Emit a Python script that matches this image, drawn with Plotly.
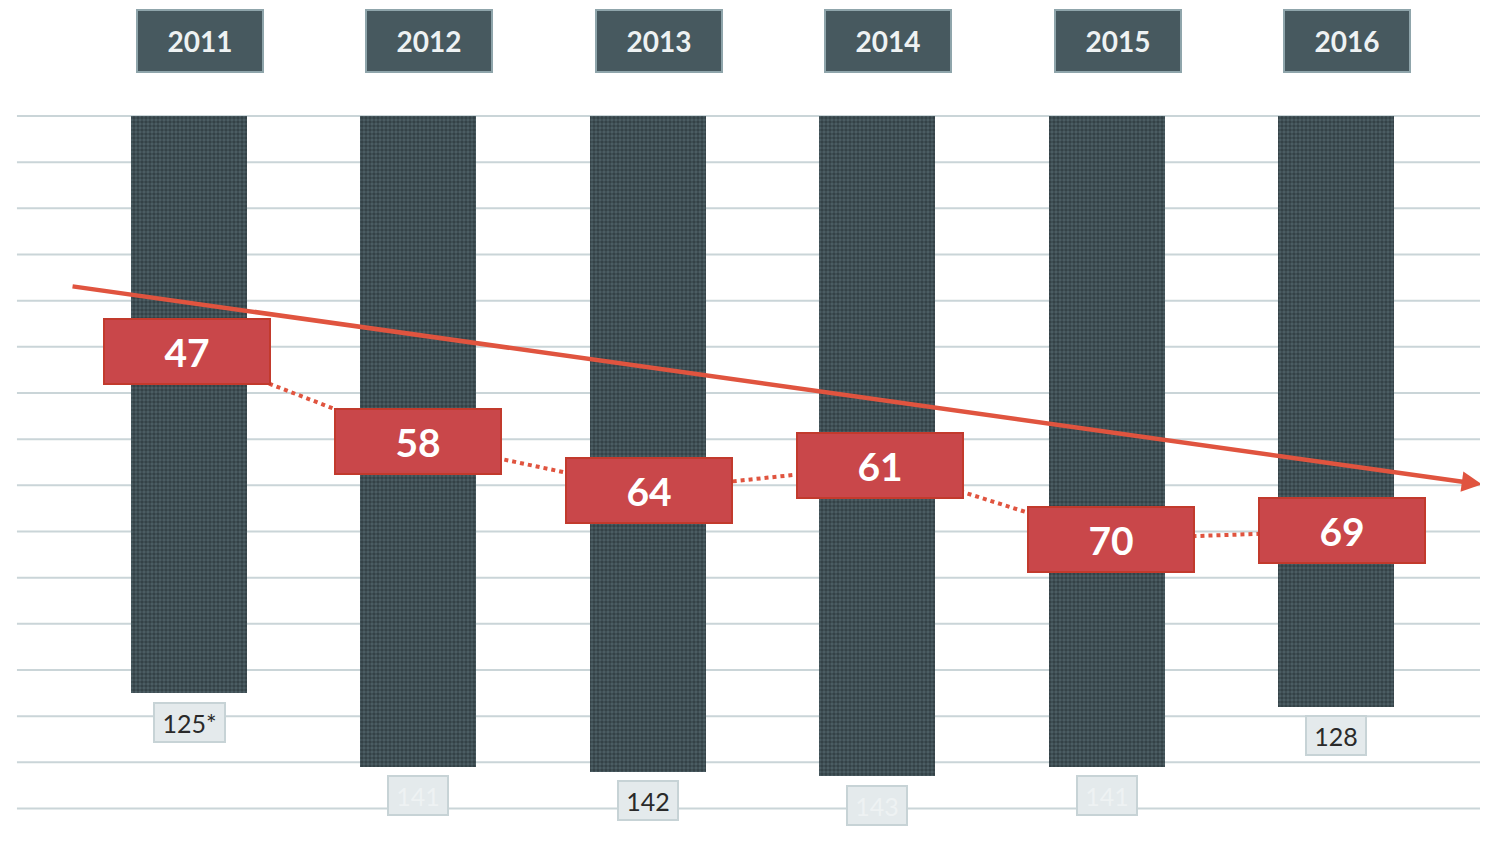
import numpy as np
import plotly.graph_objects as go

# ---- data ----
years = ["2011", "2012", "2013", "2014", "2015", "2016"]
totals = [125, 141, 142, 143, 141, 128]
total_labels = ["125*", "141", "142", "143", "141", "128"]
scores = [47, 58, 64, 61, 70, 69]
grid_ticks = list(range(0, 151, 10))

# ---- styles ----
total_text_colors = ["#2a2a2a", "#eef2f3", "#2a2a2a", "#eef2f3", "#eef2f3", "#2a2a2a"]
RED = "#e0543f"
BOX_FILL = "#c9474a"
BOX_LINE = "#c23a2d"
HEAD_FILL = "#47595f"
HEAD_LINE = "#8fa5ab"
BAR_FG = "#1b2528"
BAR_BG = "#4d5f66"
GRID = "#cad5d8"
FONT = "Lato"

W, H = 1480, 842  # page adds an 8px body margin

x = list(range(len(years)))

fig = go.Figure()

# gridlines
for t in grid_ticks:
    fig.add_shape(type="line", xref="x", yref="y", x0=-0.75, x1=5.8, y0=t, y1=t,
                  line=dict(color=GRID, width=2), layer="below")

# bars hanging from the top
fig.add_trace(go.Bar(
    x=x, y=totals, base=0, width=0.506,
    marker=dict(color=BAR_BG, line=dict(width=0),
                pattern=dict(shape=".", fgcolor=BAR_FG, bgcolor=BAR_BG, size=4, solidity=0.62)),
    hoverinfo="skip", showlegend=False,
))

# dotted connector of scores
fig.add_trace(go.Scatter(
    x=x, y=scores, xaxis="x2", yaxis="y2", mode="lines",
    line=dict(color=RED, width=4, dash="dot"),
    hoverinfo="skip", showlegend=False,
))

# trend arrow (linear fit of scores, lifted above the boxes)
slope, intercept = np.polyfit(x, scores, 1)
trend_lift = -10.3
xs, xe = -0.502, 5.606
ys = intercept + slope * xs + trend_lift
ye = intercept + slope * xe + trend_lift - 0.6
fig.add_annotation(x=xe, y=ye, xref="x2", yref="y2", ax=xs, ay=ys, axref="x2", ayref="y2",
                   showarrow=True, arrowhead=2, arrowsize=0.9, arrowwidth=4.5,
                   arrowcolor=RED, standoff=0, startstandoff=0, text="")

# score boxes
for xi, s in zip(x, scores):
    fig.add_annotation(x=xi, y=s, xref="x2", yref="y2", text=f"<b>{s}</b>", showarrow=False,
                       font=dict(family=FONT, size=39, color="#ffffff"),
                       bgcolor=BOX_FILL, bordercolor=BOX_LINE, borderwidth=2, borderpad=0,
                       width=164, height=63, xanchor="center", yanchor="middle")

# total labels below bars
for xi, v, lab, c in zip(x, totals, total_labels, total_text_colors):
    fig.add_annotation(x=xi, y=v, xref="x", yref="y", text=lab, showarrow=False,
                       yshift=-29, font=dict(family=FONT, size=25, color=c),
                       bgcolor="#e4eaec", bordercolor="#c7d3d6", borderwidth=2, borderpad=0,
                       width=58 if len(lab) < 4 else 69, height=37,
                       xanchor="center", yanchor="middle")

# year headers
for xi, yr in zip(x, years):
    fig.add_annotation(x=xi, y=1 - 33 / H, xref="x", yref="paper", text=f"<b>{yr}</b>",
                       showarrow=False, xshift=11,
                       font=dict(family=FONT, size=28, color="#eef2f3"),
                       bgcolor=HEAD_FILL, bordercolor=HEAD_LINE, borderwidth=2, borderpad=0,
                       width=124, height=60, xanchor="center", yanchor="middle")

fig.update_layout(
    width=W, height=H, autosize=False,
    margin=dict(l=0, r=0, t=0, b=0),
    paper_bgcolor="#ffffff", plot_bgcolor="#ffffff",
    showlegend=False, bargap=0,
    xaxis=dict(range=[-0.789, 5.6626], visible=False, fixedrange=True),
    xaxis2=dict(range=[-0.7749, 5.632], overlaying="x", visible=False, fixedrange=True),
    yaxis=dict(range=[158.99, -23.393], visible=False, fixedrange=True),
    yaxis2=dict(range=[108.2, 4.76], overlaying="y", visible=False, fixedrange=True),
)

fig.write_html("out.html")
